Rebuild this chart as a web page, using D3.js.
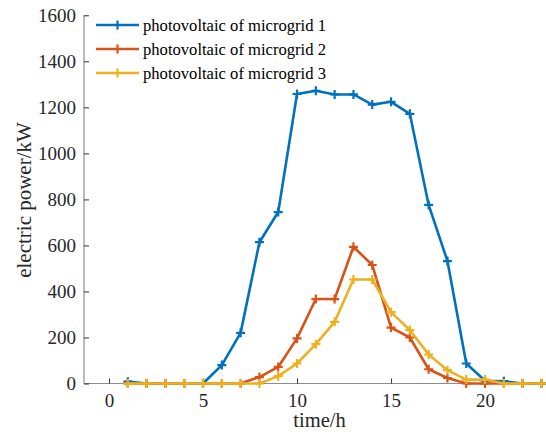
<!DOCTYPE html>
<html><head><meta charset="utf-8">
<script src="https://cdn.jsdelivr.net/npm/d3@7"></script>
<style>body{margin:0;background:#fff}svg{display:block}</style>
</head><body>
<script>
const hours = [1,2,3,4,5,6,7,8,9,10,11,12,13,14,15,16,17,18,19,20,21,22,23];
const mg1 = [8,0,0,0,0,80,220,614,745,1258,1272,1256,1256,1212,1224,1172,776,532,87,12,10,0,0];
const mg2 = [0,0,0,0,0,0,0,28,72,196,367,367,594,515,243,200,62,24,0,0,0,0,0];
const mg3 = [0,0,0,0,0,0,0,0,32,87,171,268,452,452,310,232,126,58,17,17,0,0,0];
const seriesNames = ["photovoltaic of microgrid 1","photovoltaic of microgrid 2","photovoltaic of microgrid 3"];
const seriesColors = ["#0072BD","#D95319","#EDB120"];
const xTicks = [0,5,10,15,20];
const yTicks = [0,200,400,600,800,1000,1200,1400,1600];

const W=546,H=432;
const svg=d3.select("body").append("svg").attr("width",W).attr("height",H);
const x=d3.scaleLinear().domain([-1.33,23.72]).range([84,555]);
const y=d3.scaleLinear().domain([0,1600]).range([383.5,15.3]);
const font="'Liberation Serif','Times New Roman',serif";

// axes
const ax=svg.append("g");
ax.append("line").attr("x1",84).attr("x2",W).attr("y1",y(0)).attr("y2",y(0)).attr("stroke","#8c8c8c").attr("stroke-width",1.2);
ax.append("line").attr("x1",84).attr("x2",84).attr("y1",y(0)).attr("y2",y(1600)).attr("stroke","#8c8c8c").attr("stroke-width",1.2);
const xa=svg.append("g").attr("transform",`translate(0,${y(0)})`).call(d3.axisBottom(x).tickValues(xTicks).tickSize(-5).tickPadding(10).tickFormat(d3.format("d")));
const ya=svg.append("g").attr("transform",`translate(84,0)`).call(d3.axisLeft(y).tickValues(yTicks).tickSize(-5).tickPadding(8).tickFormat(d3.format("d")));
[xa,ya].forEach(g=>{g.select(".domain").remove();g.selectAll(".tick line").attr("stroke","#333");
 g.selectAll(".tick text").attr("font-family",font).attr("font-size",19).attr("fill","#262626");});

svg.append("text").attr("x",319.5).attr("y",427).attr("text-anchor","middle").attr("font-family",font).attr("font-size",20.5).attr("fill","#262626").text("time/h");
svg.append("text").attr("transform","translate(31,200) rotate(-90)").attr("text-anchor","middle").attr("font-family",font).attr("font-size",21).attr("fill","#262626").text("electric power/kW");

const data=[mg1,mg2,mg3];
const line=d3.line().x((d,i)=>x(hours[i])).y(d=>y(d));
const plus=(g,px,py,c)=>{g.append("path").attr("d",`M${px-4.5},${py}H${px+4.5}M${px},${py-4.5}V${py+4.5}`).attr("stroke",c).attr("stroke-width",2.2);};
data.forEach((s,k)=>{
  const g=svg.append("g");
  g.append("path").datum(s).attr("d",line).attr("fill","none").attr("stroke",seriesColors[k]).attr("stroke-width",2.6).attr("stroke-linejoin","round");
  s.forEach((v,i)=>plus(g,x(hours[i]),y(v),seriesColors[k]));
});

// legend
const lg=svg.append("g");
seriesNames.forEach((n,k)=>{
  const cy=25+24*k;
  lg.append("line").attr("x1",96).attr("x2",139).attr("y1",cy).attr("y2",cy).attr("stroke",seriesColors[k]).attr("stroke-width",2.6);
  plus(lg,117.5,cy,seriesColors[k]);
  lg.append("text").attr("x",143).attr("y",cy+6).attr("font-family",font).attr("font-size",16.6).attr("fill","#000").text(n);
});
</script>
</body></html>
